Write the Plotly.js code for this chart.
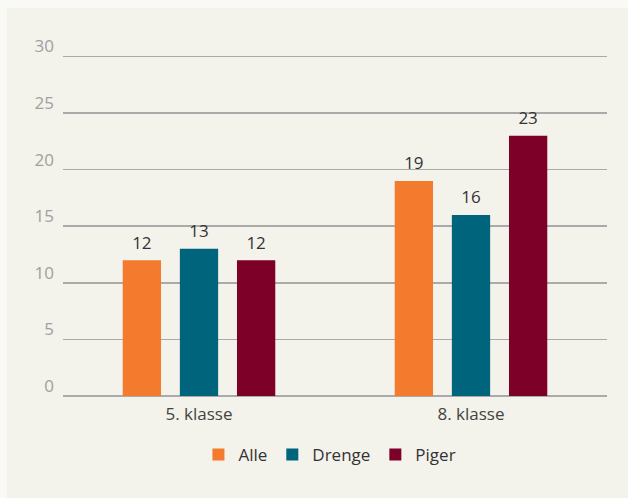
<!DOCTYPE html>
<html>
<head>
<meta charset="utf-8">
<script src="https://cdn.plot.ly/plotly-3.0.1.min.js"></script>
<style>
  html, body { margin: 0; padding: 0; background: #f9f9f5; }
  #chart { position: absolute; left: 7px; top: 8px; width: 621px; height: 490px; }
</style>
</head>
<body>
<div id="chart"></div>
<script>
const categories = ["5. klasse", "8. klasse"];
const alle = [12, 19];
const drenge = [13, 16];
const piger = [12, 23];
const seriesNames = ["Alle", "Drenge", "Piger"];
const colors = ["#f47b2e", "#00657c", "#7d0029"];
const yTicks = [0, 5, 10, 15, 20, 25, 30];

const FONT = "'Open Sans', sans-serif";
const values = [alle, drenge, piger];

const barTraces = values.map((v, i) => ({
  type: "bar",
  name: seriesNames[i],
  x: categories,
  y: v,
  offsetgroup: String(i),
  marker: { color: colors[i] },
  hoverinfo: "skip"
}));

const labelTraces = values.map((v, i) => ({
  type: "scatter",
  mode: "markers+text",
  name: seriesNames[i] + " label",
  showlegend: false,
  x: categories,
  y: v,
  offsetgroup: String(i),
  text: v.map(String),
  textposition: "top center",
  marker: { size: 10, color: "rgba(0,0,0,0)" },
  cliponaxis: false,
  textfont: { family: FONT, size: 17, color: "#333333" },
  hoverinfo: "skip"
}));

const layout = {
  width: 621,
  height: 490,
  paper_bgcolor: "#f3f2eb",
  plot_bgcolor: "#f3f2eb",
  margin: { l: 56, r: 21, t: 45, b: 102 },
  barmode: "group",
  bargap: 0.37,
  bargroupgap: 0.33,
  scattermode: "group",
  scattergap: 0.37,
  font: { family: FONT, color: "#444444" },
  xaxis: {
    type: "category",
    tickfont: { size: 17, color: "#444444" },
    showgrid: false,
    showline: false,
    ticks: "",
    ticklabelstandoff: 6
  },
  yaxis: {
    range: [0, 30.3],
    tickvals: yTicks,
    ticktext: yTicks.map(String),
    tickfont: { size: 17, color: "#a0a0a0" },
    showgrid: true,
    gridcolor: "#aaaaaa",
    gridwidth: 1.5,
    zeroline: true,
    zerolinecolor: "#aaaaaa",
    zerolinewidth: 1.5,
    showline: false,
    ticks: "",
    ticklabelshift: -10,
    ticklabelstandoff: 8,
    fixedrange: true
  },
  showlegend: true,
  legend: {
    orientation: "h",
    x: 0.52,
    xanchor: "center",
    xref: "container",
    yref: "container",
    y: 0.088,
    yanchor: "middle",
    font: { size: 17, color: "#333333" },
    bgcolor: "rgba(0,0,0,0)"
  }
};

Plotly.newPlot("chart", barTraces.concat(labelTraces), layout, { displayModeBar: false, staticPlot: true });
</script>
</body>
</html>
